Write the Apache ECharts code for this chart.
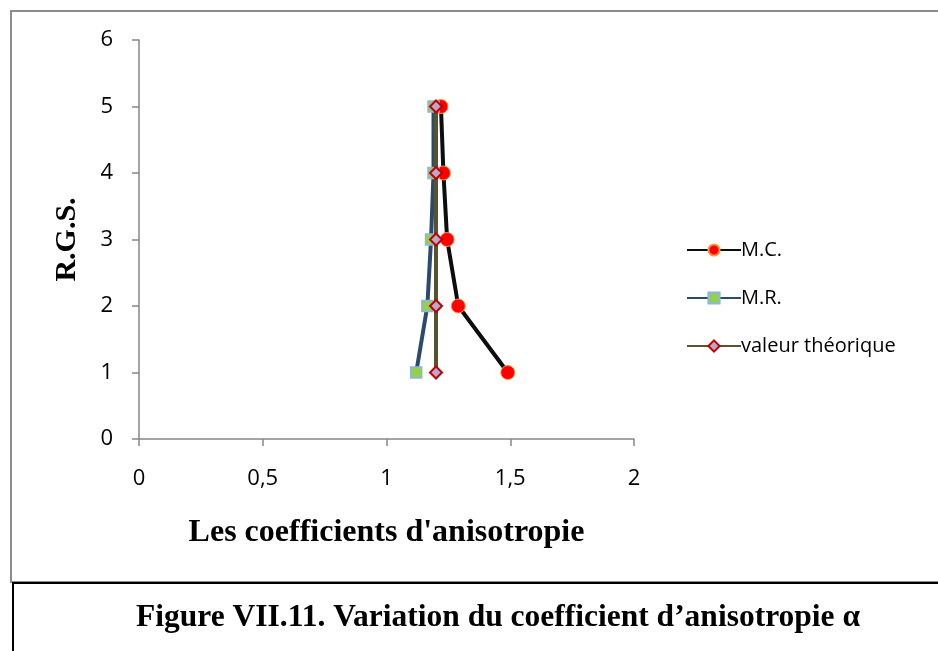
<!DOCTYPE html>
<html>
<head>
<meta charset="utf-8">
<script src="https://cdn.jsdelivr.net/npm/echarts@6/dist/echarts.min.js"></script>
<style>
html,body{margin:0;padding:0;background:#fff;}
#chart{width:938px;height:651px;}
</style>
</head>
<body>
<div id="chart"></div>
<script>
// R.G.S. levels (y values)
const rgs = [1, 2, 3, 4, 5];
// Anisotropy coefficients (x values) per series
const mcValues = [1.49, 1.29, 1.245, 1.23, 1.22];
const mrValues = [1.12, 1.165, 1.18, 1.19, 1.19];
const theoValues = [1.2, 1.2, 1.2, 1.2, 1.2];
const seriesNames = ['M.C.', 'M.R.', 'valeur théorique'];
const xTicks = [0, 0.5, 1, 1.5, 2];
const yTicks = [0, 1, 2, 3, 4, 5, 6];
const xTitle = "Les coefficients d'anisotropie";
const yTitle = 'R.G.S.';
const caption = 'Figure VII.11. Variation du coefficient d’anisotropie α';

function pairs(xs){ return xs.map((x,i)=>[x, rgs[i]]); }

const chart = echarts.init(document.getElementById('chart'));
const tickFont = {color:'#000', fontFamily:'"Open Sans", "Liberation Sans", sans-serif', fontSize:22};
const serif = '"Liberation Serif", "Times New Roman", serif';
chart.setOption({
  animation:false,
  backgroundColor:'#fff',
  grid:{left:139, top:40, width:495, height:399, containLabel:false},
  xAxis:{
    type:'value', min:xTicks[0], max:xTicks[xTicks.length-1], interval:0.5,
    splitLine:{show:false},
    axisLine:{lineStyle:{color:'#878787', width:1.5}},
    axisTick:{show:true, length:7, lineStyle:{color:'#878787', width:1.5}},
    axisLabel:Object.assign({margin:29, formatter:v=>String(v).replace('.', ',')}, tickFont),
    name:xTitle, nameLocation:'middle', nameGap:78,
    nameTextStyle:{fontFamily:serif, fontWeight:'bold', fontSize:32, color:'#000'}
  },
  yAxis:{
    type:'value', min:yTicks[0], max:yTicks[yTicks.length-1], interval:1,
    splitLine:{show:false},
    axisLine:{show:true, lineStyle:{color:'#878787', width:1.5}},
    axisTick:{show:true, length:7, lineStyle:{color:'#878787', width:1.5}},
    axisLabel:Object.assign({margin:26}, tickFont),
    name:yTitle, nameLocation:'middle', nameGap:57, nameRotate:90,
    nameTextStyle:{fontFamily:serif, fontWeight:'bold', fontSize:30, color:'#000'}
  },
  legend:{
    orient:'vertical', left:681, top:235, itemWidth:54, itemHeight:14, itemGap:28,
    textStyle:{color:'#000', fontFamily:'"Open Sans", "Liberation Sans", sans-serif', fontSize:20, lineHeight:20, padding:[0,0,0,-5]},
    data:seriesNames
  },
  title:{
    text:caption, left:131, top:597,
    textStyle:{fontFamily:serif, fontWeight:'bold', fontSize:31.5, color:'#000'}
  },
  graphic:[
    {type:'rect', shape:{x:11, y:11, width:940, height:571}, style:{fill:'none', stroke:'#8c8c8c', lineWidth:2}, z:-1},
    {type:'rect', shape:{x:13, y:583, width:940, height:80}, style:{fill:'none', stroke:'#000', lineWidth:2}, z:-1}
  ],
  series:[
    {name:seriesNames[0], type:'line', data:pairs(mcValues), symbol:'circle', symbolSize:14,
     lineStyle:{color:'#0d0d0d', width:4}, itemStyle:{color:'#ff0000', borderColor:'#f79646', borderWidth:1}, z:2},
    {name:seriesNames[1], type:'line', data:pairs(mrValues), symbol:'rect', symbolSize:11,
     lineStyle:{color:'#2c4a6e', width:4}, itemStyle:{color:'#92d050', borderColor:'#8eb4e3', borderWidth:1.5}, z:3},
    {name:seriesNames[2], type:'line', data:pairs(theoValues), symbol:'diamond', symbolSize:12,
     lineStyle:{color:'#57532f', width:4}, itemStyle:{color:'#b8a9cc', borderColor:'#c00000', borderWidth:2}, z:4}
  ]
});
</script>
</body>
</html>
